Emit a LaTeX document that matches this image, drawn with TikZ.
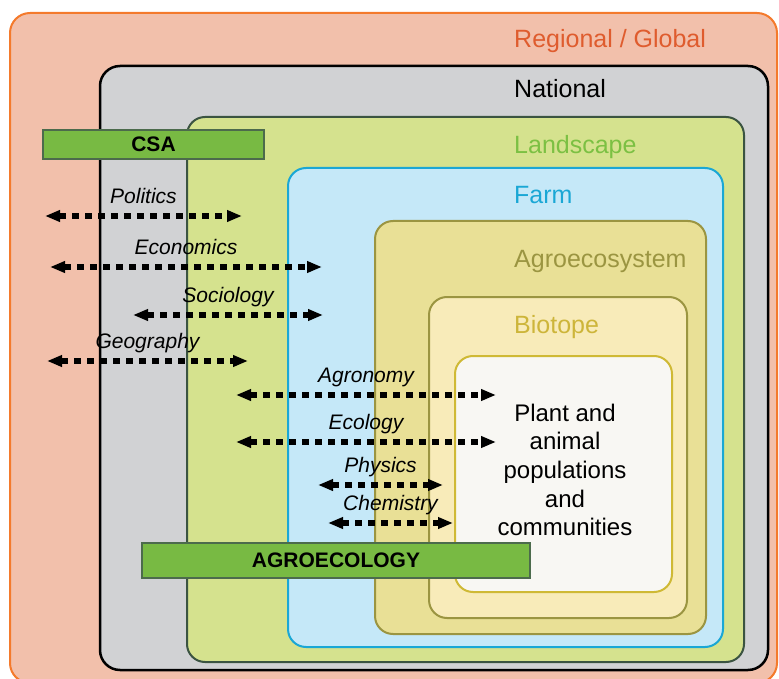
\documentclass[tikz,border=0pt]{standalone}
\usepackage{fontspec}
\setmainfont{Liberation Sans}
\usetikzlibrary{arrows.meta}
\usepackage{xcolor}
\definecolor{fillreg}{HTML}{F2C0AB}
\definecolor{linereg}{HTML}{F47A2C}
\definecolor{textreg}{HTML}{DF5C2E}
\definecolor{fillnat}{HTML}{D1D2D4}
\definecolor{linenat}{HTML}{000000}
\definecolor{textnat}{HTML}{000000}
\definecolor{fillland}{HTML}{D5E28E}
\definecolor{lineland}{HTML}{3B5441}
\definecolor{textland}{HTML}{7CC043}
\definecolor{fillfarm}{HTML}{C5E8F8}
\definecolor{linefarm}{HTML}{1AA7D5}
\definecolor{textfarm}{HTML}{1AA7D5}
\definecolor{fillagro}{HTML}{E9E096}
\definecolor{lineagro}{HTML}{9B9541}
\definecolor{textagro}{HTML}{9B9541}
\definecolor{fillbio}{HTML}{F8EBB9}
\definecolor{linebio}{HTML}{9B9541}
\definecolor{textbio}{HTML}{CDB53A}
\definecolor{fillpop}{HTML}{F8F7F3}
\definecolor{linepop}{HTML}{CFB935}
\definecolor{barfill}{HTML}{78BA43}
\definecolor{barline}{HTML}{4C6B4C}

\tikzset{
  level/.style={line width=2pt},
  levellabel/.style={anchor=base west, inner sep=0, font=\fontsize{25}{30}\selectfont},
  bar/.style={draw=barline, fill=barfill, line width=1.5pt, inner sep=0, font=\fontsize{21}{25}\selectfont\bfseries},
  discipline/.style={line width=5.2pt, dash pattern=on 6.5pt off 6.5pt, {Triangle[length=15pt,width=11pt]}-{Triangle[length=15pt,width=11pt]}},
  disclabel/.style={anchor=base, inner sep=0, font=\fontsize{21}{25}\selectfont\itshape}
}

\begin{document}
\begin{tikzpicture}[x=1pt, y=-1pt]
\clip (0,0) rectangle (779,679);
\foreach \name/\xa/\ya/\xb/\yb/\r/\w in {reg/10/13/777/683/20/2, nat/100/66/768/670/20/2.5, land/187/117/744/662/18/2, farm/288/168/723/647/18/2, agro/375/221/706/634/18/2, bio/429/297/687/618/18/2, pop/455/356/672/592/18/2}
  \draw[level, line width=\w pt, rounded corners=\r pt, draw=line\name, fill=fill\name] (\xa,\ya) rectangle (\xb,\yb);
\foreach \name/\y/\txt in {reg/48/{Regional / Global}, nat/98/National, land/154/Landscape, farm/204/Farm, agro/267/Agroecosystem, bio/333/Biotope}
  \node[levellabel, text=text\name] (\name-label) at (514,\y) {\txt};
\node[align=center, inner sep=0, font=\fontsize{24}{28.7}\selectfont] (pop-text) at (565,470) {Plant and\\animal\\populations\\and\\communities};
\node[bar, minimum width=221pt, minimum height=29pt] (csa) at (153.5,144.5) {CSA};
\node[bar, minimum width=388pt, minimum height=35pt] (agroecology) at (336,560.5) {AGROECOLOGY};
\foreach \txt/\xa/\xb/\y in {Politics/45/242/216, Economics/50/322/267, Sociology/133/323/315, Geography/47/248/361, Agronomy/236/496/395, Ecology/236/496/442, Physics/318/443/485, Chemistry/328/453/523} {
  \coordinate (\txt-w) at (\xa,\y);
  \coordinate (\txt-e) at (\xb,\y);
  \draw[discipline] (\txt-w) -- (\txt-e) node[disclabel, midway, yshift=12.5pt] (\txt-label) {\txt};
}
\end{tikzpicture}
\end{document}
